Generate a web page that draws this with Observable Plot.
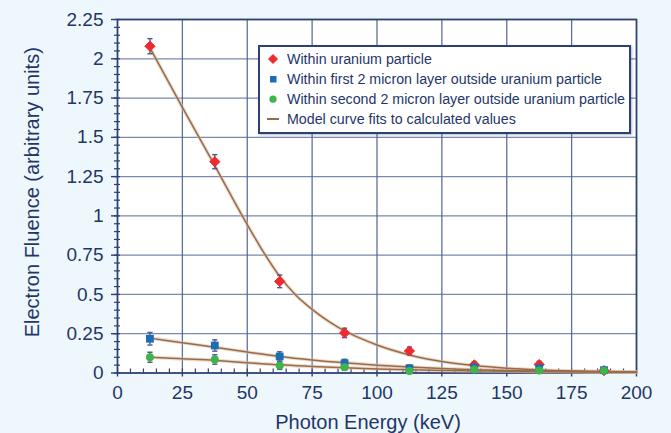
<!DOCTYPE html>
<html><head><meta charset="utf-8">
<script src="https://cdn.jsdelivr.net/npm/d3@7"></script>
<script src="https://cdn.jsdelivr.net/npm/@observablehq/plot@0.6"></script>
<style>
html,body{margin:0;padding:0;background:#eef7fc;}
#wrap{position:relative;width:671px;height:433px;overflow:hidden;background:#eef7fc;}
#legend{position:absolute;left:258px;top:45px;width:369px;height:85px;background:#fff;border:2px solid #2d3f73;box-shadow:1px 1px 2px rgba(40,60,110,.35);font-family:"Liberation Sans",Arial,sans-serif;color:#1f3669;}
.row{position:absolute;left:0;height:20px;width:100%;}
.row svg{position:absolute;left:6px;top:3px;}
.row span{position:absolute;left:26.7px;top:1px;font-size:14px;line-height:18px;white-space:nowrap;transform-origin:0 50%;display:inline-block;}
</style>
</head><body>
<div id="wrap"></div>
<script>
// ---- data ----
const energy   = [12.5, 37.5, 62.5, 87.5, 112.5, 137.5, 162.5, 187.5];
const uranium  = [2.08, 1.345, 0.583, 0.255, 0.14, 0.052, 0.054, 0.015];
const layer1   = [0.218, 0.175, 0.105, 0.062, 0.03, 0.035, 0.03, 0.018];
const layer2   = [0.1, 0.086, 0.048, 0.037, 0.013, 0.022, 0.016, 0.014];
const errU     = [0.048, 0.045, 0.04, 0.03, 0.025, 0.02, 0.02, 0.015];
const errL1    = [0.04, 0.036, 0.03, 0.025, 0.02, 0.02, 0.02, 0.015];
const errL2    = [0.032, 0.03, 0.025, 0.02, 0.015, 0.015, 0.015, 0.015];

// model curves
const curveUX  = [12.5, 25, 37.5, 43.75, 50, 56.25, 62.5, 68.75, 75, 81.25, 87.5, 93.75, 100, 112.5, 125, 137.5, 150, 162.5, 175, 187.5, 200];
const curveU   = [2.07, 1.69, 1.32, 1.13, 0.945, 0.77, 0.615, 0.495, 0.405, 0.33, 0.268, 0.22, 0.178, 0.115, 0.073, 0.047, 0.03, 0.019, 0.012, 0.008, 0.005];
const curveX   = [12.5, 25, 37.5, 50, 62.5, 75, 87.5, 100, 112.5, 125, 137.5, 150, 162.5, 175, 187.5, 200];
const curveL1  = [0.222, 0.193, 0.164, 0.133, 0.105, 0.083, 0.065, 0.05, 0.038, 0.028, 0.021, 0.016, 0.013, 0.011, 0.009, 0.007];
const curveL2  = [0.1, 0.09, 0.08, 0.066, 0.052, 0.042, 0.033, 0.026, 0.02, 0.016, 0.013, 0.011, 0.009, 0.007, 0.006, 0.005];

const xTicks = [0, 25, 50, 75, 100, 125, 150, 175, 200];
const yTicks = [0, 0.25, 0.5, 0.75, 1, 1.25, 1.5, 1.75, 2, 2.25];
const seriesNames = ["Within uranium particle", "Within first 2 micron layer outside uranium particle", "Within second 2 micron layer outside uranium particle", "Model curve fits to calculated values"];

// ---- styles ----
const navy = "#1f3669", grid = "#4f6192", frameC = "#2d3f73", barC = "#4d5a82";
const cRed = "#ee2a2e", cBlue = "#1b6db5", cGreen = "#3db54a", cCurve = "#9a6b48";

const rows = (ys, es, s) => energy.map((x, i) => ({x, y: ys[i], e: es[i], s}));
const ptsU = rows(uranium, errU, "u"), ptsB = rows(layer1, errL1, "b"), ptsG = rows(layer2, errL2, "g");
const curves = [
  ...curveUX.map((x, i) => ({x, y: curveU[i], s: "u"})),
  ...curveX.map((x, i) => ({x, y: curveL1[i], s: "b"})),
  ...curveX.map((x, i) => ({x, y: curveL2[i], s: "g"}))
];
const cap = {draw(ctx, size) { const h = Math.sqrt(size / Math.PI); ctx.moveTo(-h, 0); ctx.lineTo(h, 0); }};

function errMarks(data) {
  return [
    Plot.ruleX(data, {x: "x", y1: d => d.y - d.e, y2: d => d.y + d.e, stroke: barC, strokeWidth: 1.4}),
    Plot.dot(data, {x: "x", y: d => d.y + d.e, symbol: cap, r: 2.6, stroke: barC, fill: "none", strokeWidth: 1.4}),
    Plot.dot(data, {x: "x", y: d => d.y - d.e, symbol: cap, r: 2.6, stroke: barC, fill: "none", strokeWidth: 1.4})
  ];
}

const chart = Plot.plot({
  width: 671, height: 433,
  marginLeft: 117, marginRight: 35, marginTop: 19, marginBottom: 60.5,
  style: {background: "transparent", color: navy, fontFamily: "Liberation Sans, Arial, sans-serif", fontSize: "19px"},
  x: {domain: [0, 200], label: null},
  y: {domain: [0, 2.25], label: null},
  marks: [
    Plot.frame({fill: "white", stroke: null}),
    Plot.gridX({ticks: xTicks, stroke: grid, strokeOpacity: 0.9, strokeWidth: 1.3}),
    Plot.gridY({ticks: yTicks, stroke: grid, strokeOpacity: 0.75, strokeWidth: 1.3}),
    Plot.axisX({interval: 5, tickSize: -4, tickFormat: () => "", stroke: frameC, strokeWidth: 1.2, label: null}),
    Plot.axisY({interval: 0.05, tickSize: -3, tickFormat: () => "", stroke: frameC, strokeWidth: 1.2, label: null}),
    Plot.axisY({interval: 0.05, tickSize: 3, tickFormat: () => "", stroke: frameC, strokeWidth: 1.2, label: null}),
    Plot.axisX({ticks: xTicks, tickSize: 4, tickPadding: 8.5, tickFormat: d => String(d), stroke: frameC, strokeWidth: 1.4, label: null, fill: navy}),
    Plot.axisY({ticks: yTicks, tickSize: 6, tickPadding: 8, tickFormat: d => String(d), stroke: frameC, strokeWidth: 1.4, label: null, fill: navy}),
    Plot.frame({stroke: frameC, strokeWidth: 1.6}),
    Plot.line(curves, {x: "x", y: "y", z: "s", stroke: "#d8bea6", strokeWidth: 3.6, strokeOpacity: 0.55, curve: "monotone-x"}),
    Plot.line(curves, {x: "x", y: "y", z: "s", stroke: cCurve, strokeWidth: 1.5, curve: "monotone-x"}),
    ...errMarks(ptsU),
    Plot.dot(ptsU, {x: "x", y: "y", symbol: "diamond2", r: 4.6, fill: cRed, stroke: cRed, strokeWidth: 1, strokeLinejoin: "round"}),
    ...errMarks(ptsB),
    Plot.dot(ptsB, {x: "x", y: "y", symbol: "square", r: 4.4, fill: cBlue, stroke: "none"}),
    ...errMarks(ptsG),
    Plot.dot(ptsG, {x: "x", y: "y", symbol: "circle", r: 4, fill: cGreen, stroke: "none"}),
    Plot.text(["Photon Energy (keV)"], {text: d => d, frameAnchor: "bottom", dy: 55.5, dx: -9, lineAnchor: "bottom", textAnchor: "middle", fontSize: 20, fill: navy}),
    Plot.text(["Electron Fluence (arbitrary units)"], {text: d => d, frameAnchor: "left", dx: -85, dy: -4, rotate: -90, lineAnchor: "middle", textAnchor: "middle", fontSize: 20, fill: navy})
  ]
});

const wrap = document.getElementById("wrap");
wrap.appendChild(chart);

// ---- legend (inside plot, top right) ----
const legend = document.createElement("div");
legend.id = "legend";
const symbols = [
  `<svg width="14" height="14"><path d="M7 2.5 L11.5 7 L7 11.5 L2.5 7Z" fill="${cRed}" stroke="${cRed}" stroke-linejoin="round"/></svg>`,
  `<svg width="14" height="14"><rect x="4" y="4" width="6.5" height="6.5" fill="${cBlue}"/></svg>`,
  `<svg width="14" height="14"><circle cx="7" cy="7.2" r="3.6" fill="${cGreen}"/></svg>`,
  `<svg width="14" height="14"><line x1="1" x2="13" y1="7" y2="7" stroke="${cCurve}" stroke-width="2"/></svg>`
];
const spans = [];
seriesNames.forEach((name, i) => {
  const r = document.createElement("div");
  r.className = "row";
  r.style.top = (2 + i * 20) + "px";
  r.innerHTML = symbols[i] + `<span>${name}</span>`;
  legend.appendChild(r);
  spans.push(r.querySelector("span"));
});
wrap.appendChild(legend);
const maxW = Math.max(...spans.map(s => s.getBoundingClientRect().width));
const k = 338 / maxW;
spans.forEach(s => s.style.transform = `scaleX(${k})`);
</script>
</body></html>
